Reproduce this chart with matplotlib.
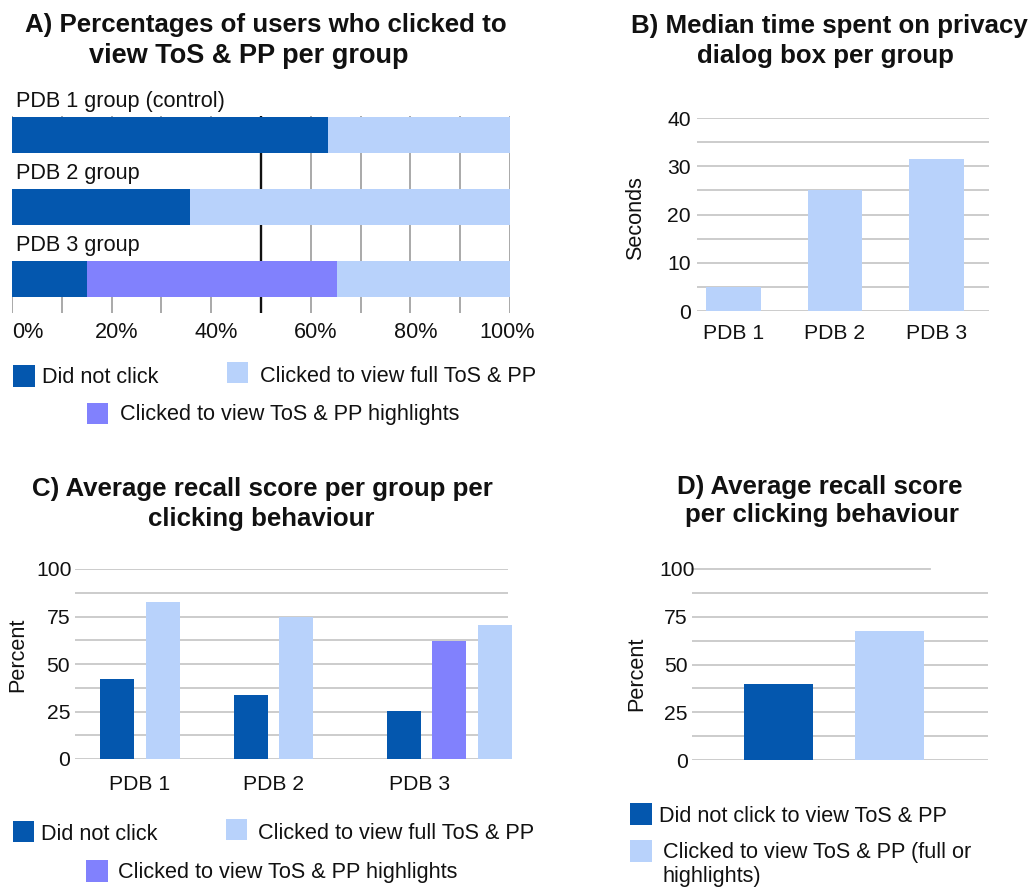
import matplotlib
matplotlib.use("Agg")
import numpy as np
import matplotlib.pyplot as plt
from matplotlib.patches import Rectangle
from matplotlib.transforms import ScaledTranslation

# ---------------- data ----------------
series_names = ["Did not click", "Clicked to view full ToS & PP",
                "Clicked to view ToS & PP highlights"]

a_groups = ["PDB 1 group (control)", "PDB 2 group", "PDB 3 group"]
a_not_clicked = [63.5, 35.7, 15.0]
a_highlights = [0.0, 0.0, 50.2]
a_full = [36.5, 64.3, 34.8]
a_ticks = [0, 20, 40, 60, 80, 100]
a_ticklabels = ["0%", "20%", "40%", "60%", "80%", "100%"]

b_groups = ["PDB 1", "PDB 2", "PDB 3"]
b_seconds = [5.0, 25.0, 31.5]
b_ticks = [0, 10, 20, 30, 40]

c_groups = ["PDB 1", "PDB 2", "PDB 3"]
c_not_clicked = [42.0, 33.7, 25.2]
c_highlights = [np.nan, np.nan, 62.2]
c_full = [82.5, 75.0, 70.6]
pct_ticks = [0, 25, 50, 75, 100]

d_categories = ["Did not click to view ToS & PP",
                "Clicked to view ToS & PP (full or\nhighlights)"]
d_scores = [40.0, 67.7]

titles = {
    "A": ["A) Percentages of users who clicked to", "view ToS & PP per group"],
    "B": ["B) Median time spent on privacy", "dialog box per group"],
    "C": ["C) Average recall score per group per", "clicking behaviour"],
    "D": ["D) Average recall score", "per clicking behaviour"],
}

# ---------------- style ----------------
DARK = "#0457AE"
LIGHT = "#B8D2FB"
PURPLE = "#8181FD"
GRID = "#c8c8c8"
W, H = 1032, 891
FS = 15.6
TFS = 18.6
TKFS = 15.2
plt.rcParams["font.family"] = ["Liberation Sans", "DejaVu Sans"]
plt.rcParams["text.color"] = "#111111"

fig = plt.figure(figsize=(W / 100, H / 100), dpi=100)


def add_ax(l, t, r, b):
    return fig.add_axes([l / W, 1 - b / H, (r - l) / W, (b - t) / H])


def ftext(x, y, s, **kw):
    kw.setdefault("fontsize", FS)
    return fig.text(x / W, 1 - y / H, s, **kw)


def legend_item(x, y_top, size, color, tx, ty, label, **kw):
    fig.patches.append(Rectangle((x / W, 1 - (y_top + size) / H), size / W, size / H,
                                 transform=fig.transFigure, color=color, lw=0))
    ftext(tx, ty, label, va="baseline", ha="left", **kw)


def shift(lbl, dx_px):
    lbl.set_transform(lbl.get_transform() + ScaledTranslation(dx_px / 100, 0, fig.dpi_scale_trans))


def clean(ax):
    for s in ax.spines.values():
        s.set_visible(False)
    ax.tick_params(length=0, labelsize=TKFS, colors="#111111")


# titles
for (x1, y1, x2, y2, fs2), key in [((266, 32, 249, 63, 19.5), "A"), ((829, 33, 825, 63, TFS), "B"),
                                   ((262, 496, 261, 526, TFS), "C"), ((820, 494, 822, 522, TFS), "D")]:
    ftext(x1, y1, titles[key][0], ha="center", va="baseline", fontsize=TFS, fontweight="bold")
    ftext(x2, y2, titles[key][1], ha="center", va="baseline", fontsize=fs2, fontweight="bold")

# ---------------- Panel A ----------------
axA = add_ax(12, 116, 510, 313)
clean(axA)
ya = np.arange(len(a_groups))
bh = 0.5
axA.set_xlim(0, 100)
axA.set_ylim(2 + 34 / 72, -19 / 72)
axA.set_xticks(a_ticks, a_ticklabels)
axA.set_xticks(np.arange(10, 100, 20), minor=True)
axA.tick_params(axis="x", which="both", length=0, pad=6.8, labelsize=FS)
axA.set_yticks([])
axA.set_axisbelow(True)
axA.grid(axis="x", which="both", color="#a3a3a3", lw=1.3, zorder=0.5)
xl = axA.get_xticklabels()
xl[0].set_ha("left")
for lbl in xl[1:-1]:
    shift(lbl, 5)
shift(xl[-1], -3)
axA.axvline(50, color="#111111", lw=1.7, zorder=0.9)
# white label rows hiding the left half of the grid
for i in range(1, len(a_groups)):
    axA.add_patch(Rectangle((-0.5, i - 1 + bh / 2), 49.9, 1 - bh, facecolor="white",
                            edgecolor="none", zorder=0.8, clip_on=False))
left = np.zeros(len(a_groups))
for vals, col in [(a_not_clicked, DARK), (a_highlights, PURPLE), (a_full, LIGHT)]:
    axA.barh(ya, vals, left=left, height=bh, color=col, lw=0, zorder=2)
    left = left + np.array(vals)
for i, g in enumerate(a_groups):
    axA.text(0.8, i - 0.385, g, ha="left", va="baseline", fontsize=FS, clip_on=False, zorder=3)

legend_item(13, 365, 22, DARK, 42, 383, series_names[0])
legend_item(227, 362, 21, LIGHT, 260, 382, series_names[1])
legend_item(87, 403, 21, PURPLE, 120, 420, series_names[2])

# ---------------- Panel B ----------------
axB = add_ax(697, 118, 989, 311)
clean(axB)
xb = np.arange(len(b_groups))
axB.set_xlim(-0.36, 2.517)
axB.set_ylim(0, 40)
axB.set_yticks(b_ticks)
axB.set_yticks(np.arange(5, 40, 10), minor=True)
axB.tick_params(axis="y", which="both", length=0, pad=4.3)
axB.set_xticks(xb, b_groups)
axB.tick_params(axis="x", pad=9.7)
axB.set_axisbelow(True)
axB.grid(axis="y", which="both", color=GRID, lw=1.3)
axB.bar(xb, b_seconds, width=0.54, color=LIGHT, lw=0, zorder=2)
ftext(636, 218, "Seconds", rotation=90, ha="center", va="center")

# ---------------- Panel C ----------------
axC = add_ax(75, 569, 508, 759)
clean(axC)
C_GROUP_POS = [0.0, 1.0, 2.318]
C_TICK_POS = [0.0, 1.0, 2.097]
C_PITCH = 0.341
C_WIDTH = 0.255
axC.set_xlim(-0.487, 2.757)
axC.set_ylim(0, 100)
axC.set_yticks(pct_ticks)
axC.set_yticks(np.arange(12.5, 100, 25), minor=True)
axC.tick_params(axis="y", which="both", length=0, pad=3.6)
shift(axC.get_yticklabels()[-1], 2)
axC.set_xticks(C_TICK_POS, c_groups)
axC.tick_params(axis="x", pad=11.2)
axC.set_axisbelow(True)
axC.grid(axis="y", which="both", color=GRID, lw=1.3)
c_series = [(c_not_clicked, DARK), (c_highlights, PURPLE), (c_full, LIGHT)]
for gi in range(len(c_groups)):
    present = [(vals[gi], col) for vals, col in c_series if not np.isnan(vals[gi])]
    n = len(present)
    for k, (v, col) in enumerate(present):
        axC.bar(C_GROUP_POS[gi] + (k - (n - 1) / 2) * C_PITCH, v, width=C_WIDTH,
                color=col, lw=0, zorder=2, clip_on=False)
ftext(18, 655, "Percent", rotation=90, ha="center", va="center")

legend_item(13, 821, 21, DARK, 41, 840, series_names[0])
legend_item(226, 819, 21, LIGHT, 258, 839, series_names[1])
legend_item(86, 860, 22, PURPLE, 118, 878, series_names[2])

# ---------------- Panel D ----------------
axD = add_ax(692, 569, 988, 760)
clean(axD)
xd = np.arange(len(d_scores))
axD.set_xlim(-0.779, 1.887)
axD.set_ylim(0, 100)
axD.set_yticks(pct_ticks)
axD.tick_params(axis="y", length=0, pad=2.9)
shift(axD.get_yticklabels()[-1], 7)
axD.set_xticks([])
for yv in np.arange(0, 100, 12.5):
    axD.axhline(yv, color=GRID, lw=1.3, zorder=0.5)
axD.axhline(100, xmax=0.804, color=GRID, lw=1.3, zorder=0.5, clip_on=False)
axD.bar(xd, d_scores, width=0.62, color=[DARK, LIGHT], lw=0, zorder=2)
ftext(637, 674, "Percent", rotation=90, ha="center", va="center")

legend_item(630, 803, 22, DARK, 659, 822, d_categories[0])
legend_item(630, 840, 22, LIGHT, 663, 882, d_categories[1], linespacing=1.2)

fig.savefig("out.png", dpi=100)
